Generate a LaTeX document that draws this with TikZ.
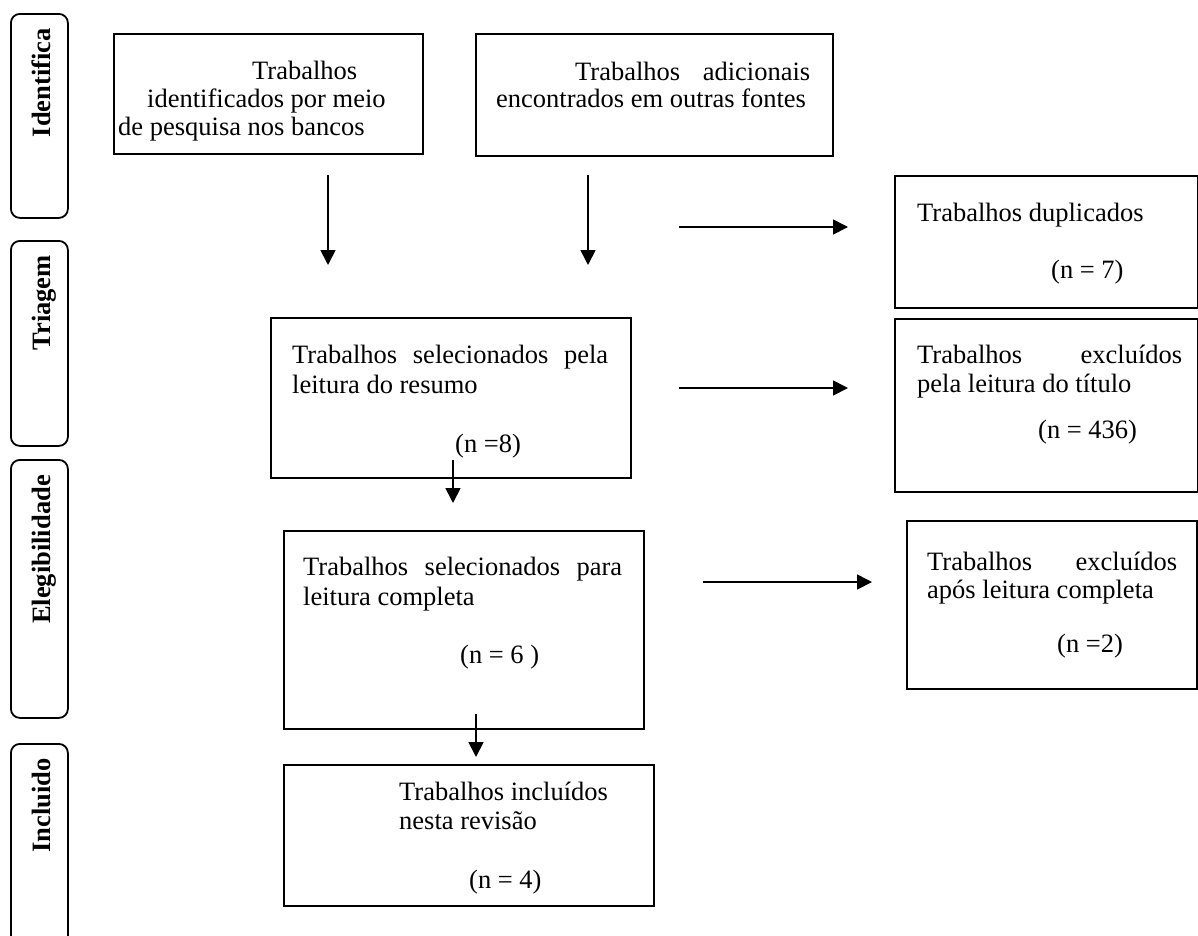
\documentclass[tikz,border=0pt]{standalone}
\usepackage{fontspec}
\setmainfont{Liberation Serif}
\usetikzlibrary{arrows.meta}
\begin{document}
\begin{tikzpicture}[x=1pt,y=-1pt,
  box/.style={draw, line width=1.8pt, inner sep=0pt, anchor=north west},
  stage/.style={draw, line width=1.8pt, inner sep=0pt, anchor=north west, rounded corners=9pt},
  lab/.style={rotate=90, anchor=base east, inner sep=0pt, font=\fontsize{26.5}{28}\selectfont\bfseries},
  txt/.style={anchor=base west, inner sep=0pt, font=\fontsize{26.5}{28}\selectfont},
  arr/.style={line width=1.7pt, -{Triangle[length=15pt,width=15pt]}}]
\useasboundingbox (0,0) rectangle (1198,935);
\clip (0,0) rectangle (1198,935);
% stage boxes
\node[stage, minimum width=57pt, minimum height=204pt] (s1) at (10,13) {};
\node[stage, minimum width=57pt, minimum height=205pt] (s2) at (10,240) {};
\node[stage, minimum width=57pt, minimum height=258pt] (s3) at (10,459) {};
\node[stage, minimum width=57pt, minimum height=230pt] (s4) at (10,743) {};
\node[lab] (l1) at (50,28) {Identifica};
\node[lab] (l2) at (50,255) {Triagem};
\node[lab] (l3) at (50,475) {Elegibilidade};
\node[lab] (l4) at (50,758) {Incluido};
% boxes
\node[box, minimum width=309pt, minimum height=120pt] (b1) at (113,33) {};
\node[box, minimum width=357pt, minimum height=122pt] (b2) at (475,33) {};
\node[box, minimum width=303pt, minimum height=132pt] (dup) at (894,175) {};
\node[box, minimum width=303pt, minimum height=173pt] (tit) at (894,318) {};
\node[box, minimum width=360pt, minimum height=160pt] (res) at (270,317) {};
\node[box, minimum width=360pt, minimum height=198pt] (comp) at (283,530) {};
\node[box, minimum width=290pt, minimum height=168pt] (exc) at (906,520) {};
\node[box, minimum width=370pt, minimum height=141pt] (inc) at (283,764) {};
% texts
\node[txt] (t1a) at (252,79) {Trabalhos};
\node[txt] (t1b) at (147,107) {identificados por meio};
\node[txt] (t1c) at (118,135) {de pesquisa nos bancos};
\node[txt] (t2a) at (575,80) {\hbox to 235pt{Trabalhos\hfill adicionais}};
\node[txt] (t2b) at (496,107) {encontrados em outras fontes};
\node[txt] (t3a) at (917,221) {Trabalhos duplicados};
\node[txt] (t3b) at (1051,278) {(n = 7)};
\node[txt] (t4a) at (917,363) {\hbox to 265pt{Trabalhos\hfill excluídos}};
\node[txt] (t4b) at (917,392) {pela leitura do título};
\node[txt] (t4c) at (1038,438) {(n = 436)};
\node[txt] (t5a) at (292,363) {\hbox to 316pt{Trabalhos\hfill selecionados\hfill pela}};
\node[txt] (t5b) at (292,393) {leitura do resumo};
\node[txt] (t5c) at (455,452) {(n =8)};
\node[txt] (t6a) at (303,575) {\hbox to 319pt{Trabalhos\hfill selecionados\hfill para}};
\node[txt] (t6b) at (303,605) {leitura completa};
\node[txt] (t6c) at (460,663) {(n = 6 )};
\node[txt] (t7a) at (927,570) {\hbox to 250pt{Trabalhos\hfill excluídos}};
\node[txt] (t7b) at (927,598) {após leitura completa};
\node[txt] (t7c) at (1057,652) {(n =2)};
\node[txt] (t8a) at (399,800) {Trabalhos incluídos};
\node[txt] (t8b) at (399,829) {nesta revisão};
\node[txt] (t8c) at (469,888) {(n = 4)};
% connector end points
\coordinate (a1s) at (328,175); \coordinate (a1e) at (328,265);
\coordinate (a2s) at (588,175); \coordinate (a2e) at (588,265);
\coordinate (h1s) at (679,227); \coordinate (h1e) at (848,227);
\coordinate (h2s) at (679,388); \coordinate (h2e) at (848,388);
\coordinate (h3s) at (703,582); \coordinate (h3e) at (872,582);
\coordinate (v1s) at (453,460); \coordinate (v1e) at (453,503);
\coordinate (v2s) at (476,714); \coordinate (v2e) at (476,757);
\draw[arr] (a1s) -- (a1e);
\draw[arr] (a2s) -- (a2e);
\draw[arr] (h1s) -- (h1e);
\draw[arr] (h2s) -- (h2e);
\draw[arr] (h3s) -- (h3e);
\draw[arr] (v1s) -- (v1e);
\draw[arr] (v2s) -- (v2e);
\end{tikzpicture}
\end{document}
